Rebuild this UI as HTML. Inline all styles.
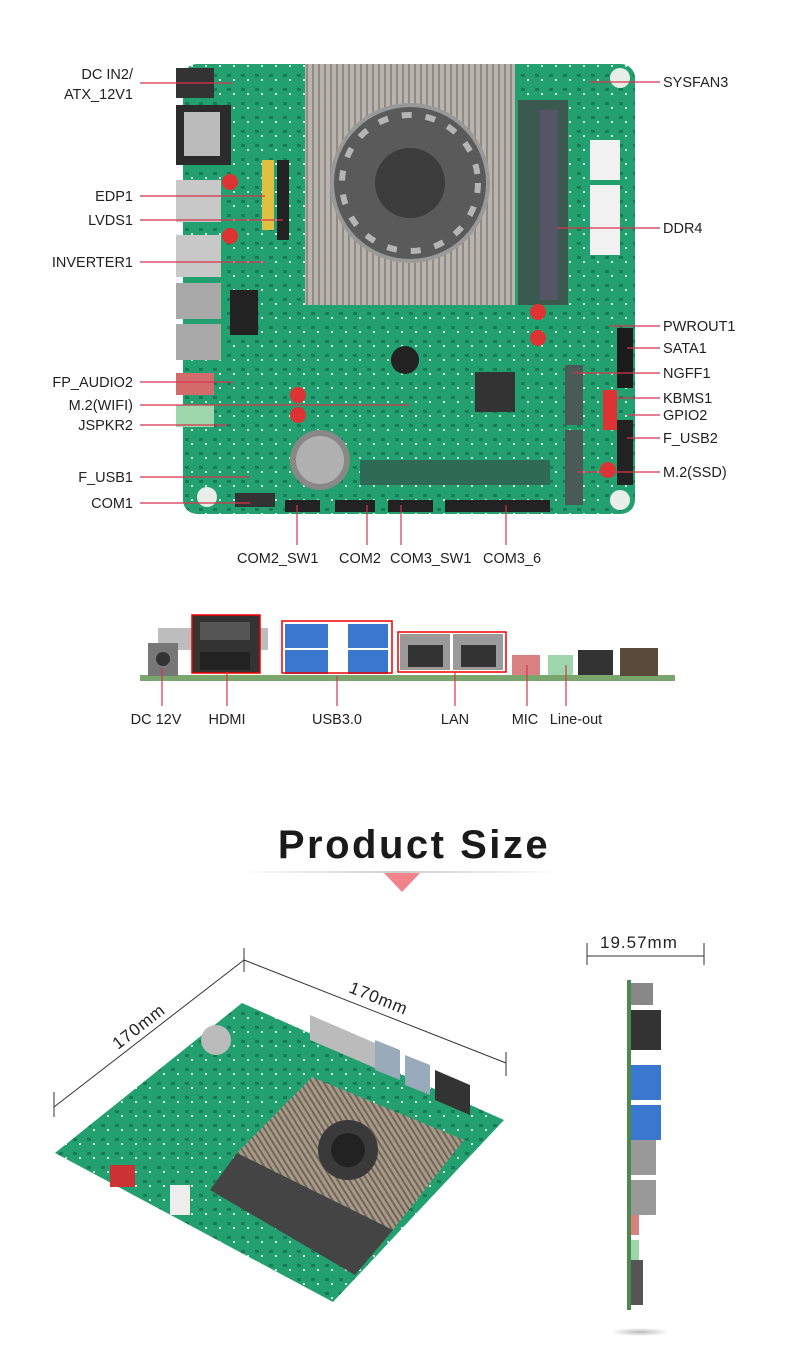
<!DOCTYPE html>
<html><head><meta charset="utf-8"><style>
html,body{margin:0;padding:0;background:#fff;}
svg{display:block;}
text{font-family:"Liberation Sans",sans-serif;fill:#222;}
</style></head><body>
<svg width="790" height="1365" viewBox="0 0 790 1365" xmlns="http://www.w3.org/2000/svg">
<defs>
<pattern id="fins" width="6" height="10" patternUnits="userSpaceOnUse">
<rect width="6" height="10" fill="#b9b4ae"/><rect width="2" height="10" fill="#8f8a85"/></pattern>
<pattern id="fins2" width="5" height="5" patternUnits="userSpaceOnUse" patternTransform="rotate(-32)">
<rect width="5" height="5" fill="#a99a88"/><rect width="2" height="5" fill="#6f655a"/></pattern>
<pattern id="pcb" width="14" height="14" patternUnits="userSpaceOnUse">
<rect width="14" height="14" fill="#23a06f"/><rect x="3" y="4" width="4" height="3" fill="#1a7a55"/><rect x="9" y="9" width="2" height="2" fill="#cfe8da"/></pattern>
<linearGradient id="ln" x1="0" x2="1"><stop offset="0" stop-color="#fff"/><stop offset=".5" stop-color="#ccc"/><stop offset="1" stop-color="#fff"/></linearGradient>
<radialGradient id="sh"><stop offset="0" stop-color="#bbb"/><stop offset="1" stop-color="#fff"/></radialGradient>
</defs>

<!-- TOP BOARD -->
<rect x="183" y="64" width="452" height="450" rx="14" fill="url(#pcb)"/>
<rect x="176" y="68" width="38" height="30" fill="#333"/>
<rect x="176" y="105" width="55" height="60" fill="#2b2b2b"/><rect x="184" y="112" width="36" height="44" fill="#bbb"/>
<rect x="176" y="180" width="45" height="42" fill="#c8c8c8"/>
<rect x="176" y="235" width="45" height="42" fill="#c8c8c8"/>
<rect x="176" y="283" width="45" height="36" fill="#a9a9a9"/>
<rect x="176" y="324" width="45" height="36" fill="#a9a9a9"/>
<rect x="176" y="373" width="38" height="22" fill="#d46b6b"/>
<rect x="176" y="405" width="38" height="22" fill="#9ed6ac"/>
<rect x="262" y="160" width="12" height="70" fill="#e0c040"/><rect x="277" y="160" width="12" height="80" fill="#222"/>
<rect x="230" y="290" width="28" height="45" fill="#222"/>
<rect x="305" y="64" width="210" height="241" fill="url(#fins)"/>
<circle cx="410" cy="183" r="80" fill="#999"/><circle cx="410" cy="183" r="76" fill="#5a5a5a"/>
<circle cx="410" cy="183" r="68" fill="none" stroke="#b5b5b5" stroke-width="6" stroke-dasharray="10 14"/>
<circle cx="410" cy="183" r="35" fill="#3c3c3c"/>
<rect x="518" y="100" width="50" height="205" fill="#3a5a50"/><rect x="540" y="110" width="18" height="190" fill="#556"/>
<rect x="590" y="140" width="30" height="40" fill="#f2f2f2"/><rect x="590" y="185" width="30" height="70" fill="#f2f2f2"/>
<circle cx="320" cy="460" r="30" fill="#888"/><circle cx="320" cy="460" r="24" fill="#b0b0b0"/>
<circle cx="405" cy="360" r="14" fill="#222"/>
<rect x="475" y="372" width="40" height="40" fill="#333"/>
<rect x="565" y="365" width="18" height="60" fill="#4a5a55"/><rect x="565" y="430" width="18" height="75" fill="#4a5a55"/>
<rect x="603" y="390" width="14" height="40" fill="#d33"/>
<rect x="617" y="328" width="16" height="60" fill="#1b1b1b"/><rect x="617" y="420" width="16" height="65" fill="#222"/>
<rect x="360" y="460" width="190" height="25" fill="#2f6a55"/>
<rect x="445" y="500" width="105" height="12" fill="#222"/><rect x="285" y="500" width="35" height="12" fill="#222"/><rect x="335" y="500" width="40" height="12" fill="#222"/><rect x="388" y="500" width="45" height="12" fill="#222"/><rect x="235" y="493" width="40" height="14" fill="#333"/>
<circle cx="232" cy="297" r="0"/>
<circle cx="230" cy="182" r="8" fill="#d33"/><circle cx="230" cy="236" r="8" fill="#d33"/><circle cx="298" cy="395" r="8" fill="#d33"/><circle cx="298" cy="415" r="8" fill="#d33"/><circle cx="538" cy="312" r="8" fill="#d33"/><circle cx="538" cy="338" r="8" fill="#d33"/><circle cx="608" cy="470" r="8" fill="#d33"/>
<circle cx="620" cy="78" r="10" fill="#e8efe9"/><circle cx="620" cy="500" r="10" fill="#e8efe9"/><circle cx="207" cy="497" r="10" fill="#e8efe9"/>

<g stroke="#d7334f" stroke-width="1.2">
<line x1="140" y1="83" x2="232" y2="83"/>
<line x1="140" y1="196" x2="265" y2="196"/>
<line x1="140" y1="220" x2="283" y2="220"/>
<line x1="140" y1="262" x2="265" y2="262"/>
<line x1="140" y1="382" x2="233" y2="382"/>
<line x1="140" y1="405" x2="410" y2="405"/>
<line x1="140" y1="425" x2="227" y2="425"/>
<line x1="140" y1="477" x2="250" y2="477"/>
<line x1="140" y1="503" x2="250" y2="503"/>
<line x1="590" y1="82" x2="660" y2="82"/>
<line x1="557" y1="228" x2="660" y2="228"/>
<line x1="610" y1="326" x2="660" y2="326"/>
<line x1="627" y1="348" x2="660" y2="348"/>
<line x1="573" y1="373" x2="660" y2="373"/>
<line x1="613" y1="398" x2="660" y2="398"/>
<line x1="628" y1="415" x2="660" y2="415"/>
<line x1="627" y1="438" x2="660" y2="438"/>
<line x1="577" y1="472" x2="660" y2="472"/>
<line x1="297" y1="505" x2="297" y2="545"/>
<line x1="367" y1="505" x2="367" y2="545"/>
<line x1="401" y1="505" x2="401" y2="545"/>
<line x1="506" y1="505" x2="506" y2="545"/>
</g>
<g font-size="14.5" text-anchor="end">
<text x="133" y="79">DC IN2/</text>
<text x="133" y="99">ATX_12V1</text>
<text x="133" y="201">EDP1</text>
<text x="133" y="225">LVDS1</text>
<text x="133" y="267">INVERTER1</text>
<text x="133" y="387">FP_AUDIO2</text>
<text x="133" y="410">M.2(WIFI)</text>
<text x="133" y="430">JSPKR2</text>
<text x="133" y="482">F_USB1</text>
<text x="133" y="508">COM1</text>
</g>
<g font-size="14.5">
<text x="663" y="87">SYSFAN3</text>
<text x="663" y="233">DDR4</text>
<text x="663" y="331">PWROUT1</text>
<text x="663" y="353">SATA1</text>
<text x="663" y="378">NGFF1</text>
<text x="663" y="403">KBMS1</text>
<text x="663" y="420">GPIO2</text>
<text x="663" y="443">F_USB2</text>
<text x="663" y="477">M.2(SSD)</text>
<text x="237" y="563">COM2_SW1</text>
<text x="339" y="563">COM2</text>
<text x="390" y="563">COM3_SW1</text>
<text x="483" y="563">COM3_6</text>
</g>

<!-- IO PANEL -->
<rect x="140" y="675" width="535" height="6" fill="#7aa66e"/>
<rect x="158" y="628" width="110" height="22" fill="#bdbdbd"/>
<rect x="148" y="643" width="30" height="33" fill="#777"/><circle cx="163" cy="659" r="7" fill="#333"/>
<rect x="192" y="615" width="68" height="58" fill="#333"/><rect x="200" y="622" width="50" height="18" fill="#555"/><rect x="200" y="652" width="50" height="18" fill="#222"/>
<rect x="192" y="615" width="68" height="58" fill="none" stroke="#e00" stroke-width="1.5"/>
<rect x="285" y="624" width="43" height="24" fill="#3a78d0"/><rect x="285" y="650" width="43" height="24" fill="#3a78d0"/>
<rect x="348" y="624" width="40" height="24" fill="#3a78d0"/><rect x="348" y="650" width="40" height="24" fill="#3a78d0"/>
<rect x="282" y="621" width="110" height="52" fill="none" stroke="#e00" stroke-width="1.5"/>
<rect x="400" y="634" width="50" height="36" fill="#9a9a9a"/><rect x="453" y="634" width="50" height="36" fill="#9a9a9a"/>
<rect x="408" y="645" width="35" height="22" fill="#333"/><rect x="461" y="645" width="35" height="22" fill="#333"/>
<rect x="398" y="632" width="108" height="40" fill="none" stroke="#e00" stroke-width="1.5"/>
<rect x="512" y="655" width="28" height="20" fill="#d98080"/><rect x="548" y="655" width="25" height="20" fill="#9ed6ac"/>
<rect x="578" y="650" width="35" height="25" fill="#333"/><rect x="620" y="648" width="38" height="28" fill="#5a4a3a"/>
<g stroke="#d7334f" stroke-width="1.2">
<line x1="162" y1="668" x2="162" y2="706"/><line x1="227" y1="672" x2="227" y2="706"/>
<line x1="337" y1="676" x2="337" y2="706"/><line x1="455" y1="672" x2="455" y2="706"/>
<line x1="527" y1="665" x2="527" y2="706"/><line x1="566" y1="665" x2="566" y2="706"/>
</g>
<g font-size="14.5" text-anchor="middle">
<text x="156" y="724">DC 12V</text><text x="227" y="724">HDMI</text><text x="337" y="724">USB3.0</text>
<text x="455" y="724">LAN</text><text x="525" y="724">MIC</text><text x="576" y="724">Line-out</text>
</g>

<!-- PRODUCT SIZE -->
<text x="414" y="858" font-size="40" font-weight="bold" text-anchor="middle" letter-spacing="2.5" style="fill:#1a1a1a">Product Size</text>
<rect x="240" y="871" width="320" height="2" fill="url(#ln)"/>
<polygon points="384,873 420,873 402,892" fill="#f0848a"/>

<!-- ANGLED BOARD -->
<g stroke="#333" stroke-width="1" fill="none">
<line x1="54" y1="1107" x2="244" y2="960"/><line x1="244" y1="960" x2="506" y2="1063"/>
<line x1="54" y1="1092" x2="54" y2="1117"/><line x1="244" y1="948" x2="244" y2="972"/><line x1="506" y1="1052" x2="506" y2="1076"/>
<line x1="587" y1="956" x2="704" y2="956"/><line x1="587" y1="943" x2="587" y2="965"/><line x1="704" y1="943" x2="704" y2="965"/>
</g>
<text font-size="17" transform="translate(118,1050) rotate(-38)" letter-spacing="1">170mm</text>
<text font-size="17" transform="translate(348,992) rotate(22)" letter-spacing="1">170mm</text>
<text x="600" y="948" font-size="17" letter-spacing="1">19.57mm</text>

<polygon points="242,1003 504,1120 333,1302 55,1153" fill="url(#pcb)"/>
<polygon points="312,1077 464,1140 393,1230 237,1153" fill="url(#fins2)"/>
<circle cx="348" cy="1150" r="30" fill="#3a3a3a"/><circle cx="348" cy="1150" r="17" fill="#222"/>
<polygon points="237,1153 393,1230 355,1275 210,1190" fill="#444"/>
<circle cx="216" cy="1040" r="15" fill="#bbb"/>
<polygon points="435,1070 470,1085 470,1115 435,1100" fill="#333"/>
<polygon points="310,1015 345,1030 345,1055 310,1040" fill="#bbb"/>
<polygon points="345,1030 375,1043 375,1068 345,1055" fill="#bbb"/>
<polygon points="375,1040 400,1050 400,1080 375,1070" fill="#9ab"/>
<polygon points="405,1055 430,1065 430,1095 405,1085" fill="#9ab"/>
<rect x="110" y="1165" width="25" height="22" fill="#c33"/>
<rect x="170" y="1185" width="20" height="30" fill="#eee"/>

<!-- SIDE VIEW -->
<rect x="627" y="980" width="4" height="330" fill="#4a8a4a"/>
<rect x="631" y="983" width="22" height="22" fill="#888"/><rect x="631" y="1010" width="30" height="40" fill="#333"/>
<rect x="631" y="1065" width="30" height="35" fill="#3a78d0"/><rect x="631" y="1105" width="30" height="35" fill="#3a78d0"/>
<rect x="631" y="1140" width="25" height="35" fill="#999"/><rect x="631" y="1180" width="25" height="35" fill="#999"/>
<rect x="631" y="1215" width="8" height="20" fill="#d98080"/><rect x="631" y="1240" width="8" height="20" fill="#9ed6ac"/>
<rect x="631" y="1260" width="12" height="45" fill="#555"/>
<ellipse cx="640" cy="1332" rx="30" ry="4" fill="url(#sh)"/>
</svg>
</body></html>
